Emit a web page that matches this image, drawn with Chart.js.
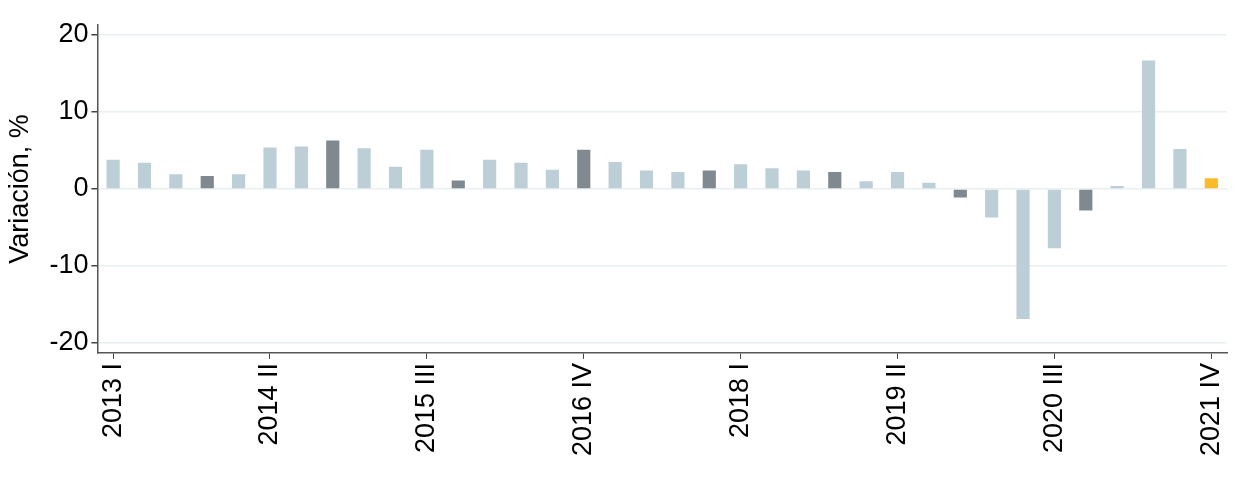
<!DOCTYPE html>
<html lang="es">

<head>
    <meta charset="UTF-8">
    <title>Variación trimestral</title>
    <script src="https://cdn.jsdelivr.net/npm/chart.js@4.4.0/dist/chart.umd.min.js"></script>
    <style>
        html, body { margin: 0; padding: 0; background: #fff; }
        #wrap { width: 1236px; height: 477px; }
    </style>
</head>

<body>
    <div id="wrap"><canvas id="chart"></canvas></div>

    <script>
        const quarters = [
            '2013 I', '2013 II', '2013 III', '2013 IV',
            '2014 I', '2014 II', '2014 III', '2014 IV',
            '2015 I', '2015 II', '2015 III', '2015 IV',
            '2016 I', '2016 II', '2016 III', '2016 IV',
            '2017 I', '2017 II', '2017 III', '2017 IV',
            '2018 I', '2018 II', '2018 III', '2018 IV',
            '2019 I', '2019 II', '2019 III', '2019 IV',
            '2020 I', '2020 II', '2020 III', '2020 IV',
            '2021 I', '2021 II', '2021 III', '2021 IV'
        ];
        const variacion = [
            3.8, 3.4, 1.9, 1.7,
            1.9, 5.4, 5.5, 6.3,
            5.3, 2.9, 5.1, 1.1,
            3.8, 3.4, 2.5, 5.1,
            3.5, 2.4, 2.2, 2.4,
            3.2, 2.7, 2.4, 2.2,
            1.0, 2.2, 0.8, -1.1,
            -3.7, -16.9, -7.7, -2.8,
            0.4, 16.7, 5.2, 1.4
        ];
        const yTicks = [-20, -10, 0, 10, 20];

        const light = '#bccfd6';
        const dark = '#7f898f';
        const highlight = '#fbba26';

        const barColors = quarters.map((q, i) => {
            if (i === quarters.length - 1) return highlight;
            return q.endsWith(' IV') ? dark : light;
        });

        const font = { family: 'Liberation Sans, Arial, sans-serif', size: 27 };
        // smaller line height on x labels so the last rotated label doesn't eat right margin
        const xFont = { family: font.family, size: 27, lineHeight: 0.7 };

        new Chart(document.getElementById('chart'), {
            type: 'bar',
            data: {
                labels: quarters,
                datasets: [{
                    label: 'Variación, %',
                    data: variacion,
                    backgroundColor: barColors,
                    barPercentage: 0.42,
                    categoryPercentage: 1
                }]
            },
            options: {
                responsive: true,
                maintainAspectRatio: false,
                animation: false,
                layout: { padding: { top: 25, right: 9, bottom: 17, left: 4 } },
                plugins: {
                    legend: { display: false },
                    tooltip: { enabled: false }
                },
                scales: {
                    x: {
                        offset: true,
                        afterBuildTicks: (scale) => {
                            scale.ticks = scale.ticks.filter((t) => t.value % 5 === 0);
                        },
                        grid: {
                            offset: false,
                            drawOnChartArea: false,
                            drawTicks: true,
                            tickLength: 6,
                            tickColor: '#444'
                        },
                        border: { display: true, color: '#555', width: 1.5 },
                        ticks: {
                            autoSkip: false,
                            maxRotation: 90,
                            minRotation: 90,
                            padding: 4,
                            color: '#000',
                            font: xFont
                        }
                    },
                    y: {
                        min: -21.3,
                        max: 21.3,
                        afterBuildTicks: (scale) => {
                            scale.ticks = yTicks.map((v) => ({ value: v }));
                        },
                        grid: {
                            color: '#e9eff2',
                            lineWidth: 1.5,
                            drawTicks: true,
                            tickLength: 6,
                            tickColor: '#444'
                        },
                        border: { display: true, color: '#555', width: 1.5 },
                        ticks: {
                            padding: 3,
                            color: '#000',
                            font: font
                        },
                        title: {
                            display: true,
                            text: 'Variación, %',
                            color: '#000',
                            font: font,
                            padding: { top: 0, bottom: 10 }
                        }
                    }
                }
            }
        });
    </script>
</body>

</html>
